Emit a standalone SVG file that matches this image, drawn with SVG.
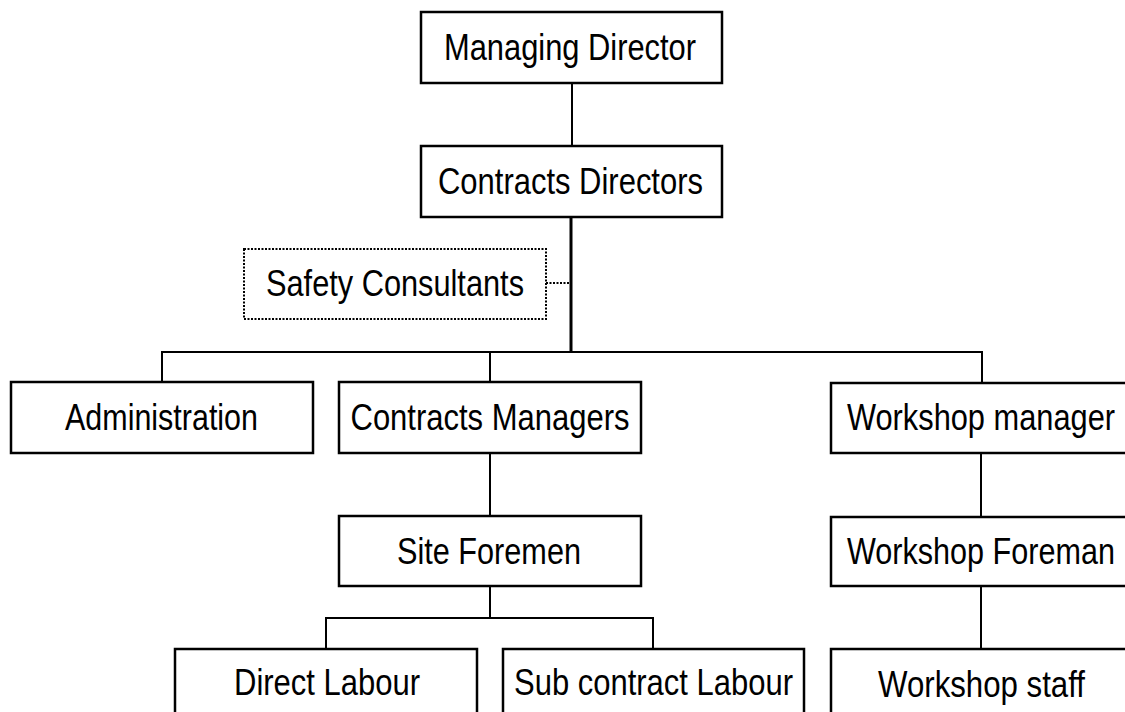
<svg xmlns="http://www.w3.org/2000/svg" width="1125" height="712" viewBox="0 0 1125 712">
<style>
.box{fill:#fff;stroke:#000;stroke-width:2.5}
.dot{fill:#fff;stroke:#000;stroke-width:2;stroke-dasharray:2 1.5}
.ln{stroke:#000;stroke-width:2;fill:none}
.thick{stroke:#000;stroke-width:3;fill:none}
.dl{stroke:#000;stroke-width:2;stroke-dasharray:2 1.5;fill:none}
text{font-family:"Liberation Sans",Arial,sans-serif;font-size:37px;fill:#000;text-anchor:middle}
</style>
<rect width="1125" height="712" fill="#fff"/>
<g id="connectors">
<line class="ln" x1="572" y1="83" x2="572" y2="146"/>
<line class="thick" x1="571" y1="217" x2="571" y2="353"/>
<line class="dl" x1="546" y1="283" x2="571" y2="283"/>
<polyline class="ln" points="162,382 162,352 982,352 982,383"/>
<line class="ln" x1="490" y1="352" x2="490" y2="382"/>
<line class="ln" x1="490" y1="453" x2="490" y2="516"/>
<line class="ln" x1="490" y1="586" x2="490" y2="618"/>
<polyline class="ln" points="326,649 326,618 653,618 653,649"/>
<line class="ln" x1="981" y1="453" x2="981" y2="517"/>
<line class="ln" x1="981" y1="586" x2="981" y2="649"/>
</g>
<g id="managing-director"><rect class="box" x="421" y="12" width="301" height="71"/><text x="570" y="60" textLength="252" lengthAdjust="spacingAndGlyphs">Managing Director</text></g>
<g id="contracts-directors"><rect class="box" x="421" y="146" width="301" height="71"/><text x="570.5" y="194" textLength="265" lengthAdjust="spacingAndGlyphs">Contracts Directors</text></g>
<g id="safety-consultants"><rect class="dot" x="244" y="249" width="302" height="70"/><text x="395" y="296" textLength="258" lengthAdjust="spacingAndGlyphs">Safety Consultants</text></g>
<g id="administration"><rect class="box" x="11" y="382" width="302" height="71"/><text x="161.5" y="430" textLength="193" lengthAdjust="spacingAndGlyphs">Administration</text></g>
<g id="contracts-managers"><rect class="box" x="339" y="382" width="302" height="71"/><text x="490" y="430" textLength="279" lengthAdjust="spacingAndGlyphs">Contracts Managers</text></g>
<g id="workshop-manager"><rect class="box" x="831" y="383" width="296" height="70"/><text x="981" y="430" textLength="268" lengthAdjust="spacingAndGlyphs">Workshop manager</text></g>
<g id="site-foremen"><rect class="box" x="339" y="516" width="302" height="70"/><text x="489" y="564" textLength="184" lengthAdjust="spacingAndGlyphs">Site Foremen</text></g>
<g id="workshop-foreman"><rect class="box" x="831" y="517" width="296" height="69"/><text x="981" y="564" textLength="268" lengthAdjust="spacingAndGlyphs">Workshop Foreman</text></g>
<g id="direct-labour"><rect class="box" x="175" y="649" width="302" height="75"/><text x="327" y="695" textLength="186" lengthAdjust="spacingAndGlyphs">Direct Labour</text></g>
<g id="sub-contract-labour"><rect class="box" x="503" y="649" width="301" height="75"/><text x="653.5" y="695" textLength="279" lengthAdjust="spacingAndGlyphs">Sub contract Labour</text></g>
<g id="workshop-staff"><rect class="box" x="831" y="649" width="296" height="75"/><text x="981.5" y="697" textLength="207" lengthAdjust="spacingAndGlyphs">Workshop staff</text></g>
</svg>
